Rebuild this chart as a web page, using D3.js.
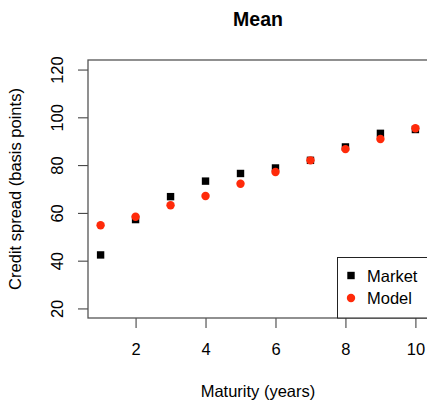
<!DOCTYPE html>
<html>
<head>
<meta charset="utf-8">
<script src="https://cdn.jsdelivr.net/npm/d3@7"></script>
<style>
  body { margin: 0; background: #fff; }
  svg { display: block; font-family: "Liberation Sans", Arial, sans-serif; }
</style>
</head>
<body>
<div id="chart"></div>
<script>
// mean credit spread per maturity
const maturities = [1, 2, 3, 4, 5, 6, 7, 8, 9, 10];
const market = [42.4, 57.2, 66.8, 73.3, 76.5, 78.8, 82.0, 87.6, 93.3, 94.9];
const model = [54.8, 58.4, 63.2, 67.1, 72.2, 77.1, 82.0, 86.7, 90.9, 95.4];
const xTicks = [2, 4, 6, 8, 10];
const yTicks = [20, 40, 60, 80, 100, 120];

const size = { x: 427, y: 407 };
const plot = { left: 88, right: 428, top: 60, bottom: 318 };
const red = "#ff2a0a";
const fontSize = 16.5;

const xScale = d3.scaleLinear().domain([0.64, 10.36]).range([plot.left, plot.right]);
const yScale = d3.scaleLinear().domain([16, 124]).range([plot.bottom, plot.top]);

const svg = d3.select("#chart")
  .append("svg")
  .attr("width", size.x)
  .attr("height", size.y);

// title
svg.append("text")
  .text("Mean")
  .attr("x", (plot.left + plot.right) / 2)
  .attr("y", 25.5)
  .attr("text-anchor", "middle")
  .attr("font-size", 19.5)
  .attr("font-weight", 700)
  .attr("fill", "#000");

// axes
const xAxis = svg.append("g")
  .attr("transform", `translate(0, ${plot.bottom})`)
  .call(d3.axisBottom(xScale).tickValues(xTicks).tickSize(10).tickSizeOuter(0));
xAxis.select(".domain").remove();
xAxis.selectAll("line").attr("stroke", "#333");
xAxis.selectAll("text")
  .attr("font-size", fontSize)
  .attr("font-family", "Liberation Sans, Arial, sans-serif")
  .attr("fill", "#000")
  .attr("y", 37)
  .attr("dy", 0);

const yAxis = svg.append("g")
  .attr("transform", `translate(${plot.left}, 0)`)
  .call(d3.axisLeft(yScale).tickValues(yTicks).tickSize(10).tickSizeOuter(0));
yAxis.select(".domain").remove();
yAxis.selectAll("line").attr("stroke", "#333");
yAxis.selectAll("text")
  .attr("font-size", fontSize)
  .attr("font-family", "Liberation Sans, Arial, sans-serif")
  .attr("fill", "#000")
  .attr("transform", "rotate(-90)")
  .attr("text-anchor", "middle")
  .attr("x", 0)
  .attr("y", -25.5)
  .attr("dy", 0);

// box
svg.append("rect")
  .attr("x", plot.left)
  .attr("y", plot.top)
  .attr("width", plot.right - plot.left)
  .attr("height", plot.bottom - plot.top)
  .attr("fill", "none")
  .attr("stroke", "#555")
  .attr("stroke-width", 1.3);

// axis labels
svg.append("text")
  .text("Maturity (years)")
  .attr("x", (plot.left + plot.right) / 2)
  .attr("y", 397)
  .attr("text-anchor", "middle")
  .attr("font-size", fontSize)
  .attr("fill", "#000");

svg.append("text")
  .text("Credit spread (basis points)")
  .attr("transform", `translate(21, ${(plot.top + plot.bottom) / 2}) rotate(-90)`)
  .attr("text-anchor", "middle")
  .attr("font-size", fontSize)
  .attr("fill", "#000");

// points
svg.append("g")
  .selectAll("rect")
  .data(maturities)
  .enter()
  .append("rect")
  .attr("x", (d) => xScale(d) - 3.7)
  .attr("y", (d, i) => yScale(market[i]) - 3.7)
  .attr("width", 7.4)
  .attr("height", 7.4)
  .attr("fill", "#000");

svg.append("g")
  .selectAll("circle")
  .data(maturities)
  .enter()
  .append("circle")
  .attr("cx", (d) => xScale(d))
  .attr("cy", (d, i) => yScale(model[i]))
  .attr("r", 4.2)
  .attr("fill", red);

// legend
const legend = svg.append("g");
legend.append("rect")
  .attr("x", 337.5)
  .attr("y", 257.5)
  .attr("width", 120)
  .attr("height", plot.bottom - 257.5)
  .attr("fill", "#fff")
  .attr("stroke", "#222")
  .attr("stroke-width", 1);

legend.append("rect")
  .attr("x", 351 - 3.7)
  .attr("y", 275.5 - 3.7)
  .attr("width", 7.4)
  .attr("height", 7.4)
  .attr("fill", "#000");
legend.append("circle")
  .attr("cx", 351)
  .attr("cy", 298)
  .attr("r", 4.2)
  .attr("fill", red);

legend.append("text")
  .text("Market")
  .attr("x", 367)
  .attr("y", 282)
  .attr("font-size", fontSize)
  .attr("fill", "#000");
legend.append("text")
  .text("Model")
  .attr("x", 367)
  .attr("y", 304)
  .attr("font-size", fontSize)
  .attr("fill", "#000");
</script>
</body>
</html>
